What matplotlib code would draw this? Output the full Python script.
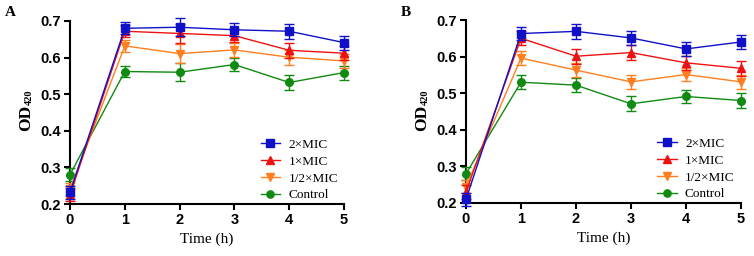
import numpy as np
import matplotlib.pyplot as plt

# time points (h)
t = [0, 1, 2, 3, 4, 5]
labels = ['2×MIC', '1×MIC', '1/2×MIC', 'Control']

# panel A
a_2mic = [0.232, 0.680, 0.683, 0.676, 0.672, 0.641]
a_1mic = [0.225, 0.672, 0.666, 0.660, 0.620, 0.612]
a_half = [0.240, 0.632, 0.611, 0.621, 0.601, 0.591]
a_ctrl = [0.280, 0.562, 0.560, 0.581, 0.532, 0.559]
a_err = [0.018, 0.016, 0.025, 0.018, 0.020, 0.019]

# panel B
b_2mic = [0.210, 0.663, 0.669, 0.651, 0.621, 0.640]
b_1mic = [0.230, 0.650, 0.601, 0.611, 0.583, 0.568]
b_half = [0.245, 0.596, 0.563, 0.531, 0.551, 0.531]
b_ctrl = [0.280, 0.530, 0.522, 0.471, 0.491, 0.480]
b_err = [0.018, 0.019, 0.020, 0.020, 0.019, 0.020]

colors = ['#1010c8', '#ee1111', '#ff7f1e', '#108a10']
markers = ['s', '^', 'v', 'o']

W, H = 754, 256
fig = plt.figure(figsize=(W / 100, H / 100), dpi=100)
axA = fig.add_axes([70 / W, 1 - 204 / H, 274 / W, 183 / H])
axB = fig.add_axes([466 / W, 1 - 203 / H, 275 / W, 183 / H])


def draw(ax, series, err, letter, dx):
    # control first so treatment lines sit on top
    for i in [3, 2, 1, 0]:
        ax.errorbar(t, series[i], yerr=err, color=colors[i], marker=markers[i],
                    markersize=5.5, linewidth=1.0, elinewidth=1.0, capsize=3.5,
                    capthick=1.0, label=labels[i], clip_on=False, zorder=3 + (3 - i))
    ax.set_xlim(0, 5)
    ax.set_ylim(0.2, 0.7)
    ax.set_xticks(t)
    ax.set_yticks([0.2, 0.3, 0.4, 0.5, 0.6, 0.7])
    ax.set_yticklabels(['0.2', '0.3', '0.4', '0.5', '0.6', '0.7'])
    ax.spines['top'].set_visible(False)
    ax.spines['right'].set_visible(False)
    ax.spines['left'].set_linewidth(1.5)
    ax.spines['bottom'].set_linewidth(1.5)
    ax.tick_params(width=1.5, length=4, labelsize=10.5, pad=2.5)
    for lab in ax.get_xticklabels() + ax.get_yticklabels():
        lab.set_fontweight('bold')
        lab.set_family('Liberation Sans')
    ax.set_xlabel('Time (h)', family='Liberation Serif', fontsize=11, labelpad=4)
    # y label: OD with a small subscript 420
    fig.text((26 + dx) / W, 1 - 118 / H, 'OD', rotation=90, ha='center', va='center',
             family='Liberation Serif', fontsize=12.5, fontweight='bold')
    fig.text((29 + dx) / W, 1 - 97 / H, '420', rotation=90, ha='center', va='center',
             family='Liberation Serif', fontsize=7.5, fontweight='bold')
    h, l = ax.get_legend_handles_labels()
    h = [x[0] for x in h][::-1]
    l = l[::-1]
    ax.legend(h, l, loc='lower left', bbox_to_anchor=(0.686, 0.0), frameon=False,
              prop={'family': 'Liberation Serif', 'size': 9.5}, handlelength=1.5,
              labelspacing=0.35, handletextpad=0.6, borderpad=0, borderaxespad=0.2,
              markerscale=0.95)
    fig.text((5 + dx) / W, 1 - 6 / H, letter, family='Liberation Serif',
             fontsize=11, fontweight='bold', ha='left', va='top')


draw(axA, [a_2mic, a_1mic, a_half, a_ctrl], a_err, 'A', 0)
draw(axB, [b_2mic, b_1mic, b_half, b_ctrl], b_err, 'B', 396)

fig.savefig('out.png', dpi=100)
